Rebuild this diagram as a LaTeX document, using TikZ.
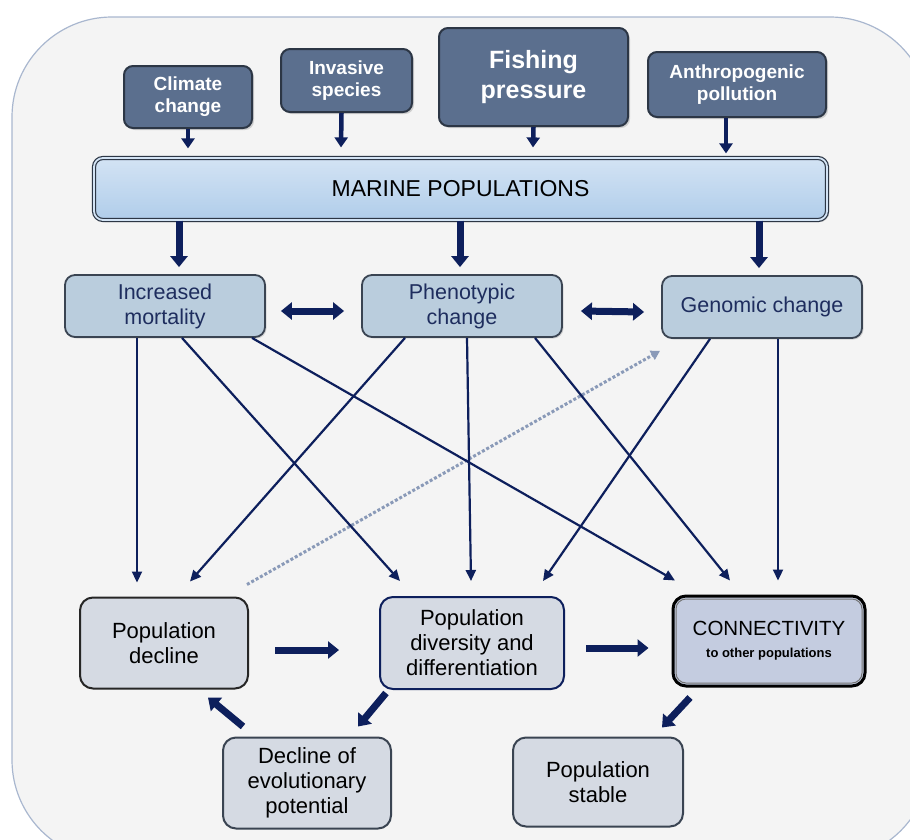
\documentclass[tikz,border=0pt]{standalone}
\usepackage{fontspec}
\setmainfont{Liberation Sans}
\usetikzlibrary{arrows.meta,shadows}
\definecolor{bgfill}{HTML}{F4F4F4}
\definecolor{bgline}{HTML}{A9B7CF}
\definecolor{topfill}{HTML}{5B6F8E}
\definecolor{topline}{HTML}{2C3645}
\definecolor{marA}{HTML}{D3E3F4}
\definecolor{marB}{HTML}{B0CDEA}
\definecolor{midfill}{HTML}{BACDDD}
\definecolor{midline}{HTML}{3A4452}
\definecolor{midtext}{HTML}{1E2D5E}
\definecolor{botfill}{HTML}{D5DAE3}
\definecolor{confill}{HTML}{C4CCE0}
\definecolor{navy}{HTML}{0D1F5C}
\definecolor{dotcol}{HTML}{8A9AB8}
\tikzset{
  topbox/.style={rectangle, rounded corners=9pt, fill=topfill, draw=topline, line width=2pt,
    text=white, align=center, inner sep=0pt,
    drop shadow={shadow xshift=2pt, shadow yshift=-2pt, opacity=0.3}},
  smalltop/.style={topbox, font=\bfseries\fontsize{19}{22}\selectfont},
  midbox/.style={rectangle, rounded corners=10pt, fill=midfill, draw=midline, line width=1.8pt,
    text=midtext, align=center, inner sep=0pt, minimum width=200pt, minimum height=62pt,
    font=\fontsize{21.5}{25}\selectfont,
    drop shadow={shadow xshift=1.5pt, shadow yshift=-1.5pt, opacity=0.25}},
  botbox/.style={rectangle, rounded corners=13pt, fill=botfill, draw=black!85, line width=2pt,
    text=black, align=center, inner sep=0pt, font=\fontsize{22}{25}\selectfont},
  thinarr/.style={draw=navy, line width=2.2pt, -{Triangle[width=10pt,length=11pt]}},
  medarr/.style={draw=navy, line width=4.5pt, -{Triangle[width=13pt,length=10pt]}},
  fatarr/.style={draw=navy, line width=7pt, -{Triangle[width=17pt,length=11pt]}},
  dblarr/.style={draw=navy, line width=7pt, {Triangle[width=17pt,length=11pt]}-{Triangle[width=17pt,length=11pt]}},
  dotarr/.style={draw=dotcol, line width=3pt, dotted, -{Triangle[width=10pt,length=9pt]}},
}
\begin{document}
\begin{tikzpicture}[x=1pt,y=-1pt]
\useasboundingbox (0,0) rectangle (910,839);
\begin{scope}
\clip (0,0) rectangle (910,839);
\draw[fill=bgfill, draw=bgline, line width=1.2pt, rounded corners=100pt] (12,17) rectangle (930,860);
\end{scope}

% top drivers
\node[smalltop, minimum width=128pt, minimum height=62pt] (clim) at (188,97) {Climate\\change};
\node[smalltop, minimum width=131pt, minimum height=63pt] (inv) at (346.5,80.5) {Invasive\\species};
\node[topbox, minimum width=189pt, minimum height=98pt, font=\bfseries\fontsize{25}{30}\selectfont] (fish) at (533.5,77) {Fishing\\pressure};
\node[smalltop, minimum width=178pt, minimum height=65pt] (anth) at (737,84.5) {Anthropogenic\\pollution};

% marine populations
\node[rectangle, rounded corners=9pt, draw=topline, line width=1.2pt, double=marA, double distance=1.8pt,
  top color=marA, bottom color=marB, minimum width=733pt, minimum height=62pt, inner sep=0pt,
  font=\fontsize{23}{26}\selectfont, text=black,
  drop shadow={shadow xshift=2pt, shadow yshift=-2pt, opacity=0.3}] (mar) at (460.5,189) {MARINE POPULATIONS};

% middle
\node[midbox] (inc) at (165,306) {Increased\\mortality};
\node[midbox] (phe) at (462,306) {Phenotypic\\change};
\node[midbox] (gen) at (762,307) {Genomic change};

% bottom
\node[botbox, minimum width=168pt, minimum height=91pt] (dec) at (164,643) {Population\\decline};
\node[botbox, draw=navy, minimum width=184pt, minimum height=92pt] (div) at (472,643) {Population\\diversity and\\differentiation};
\node[botbox, fill=confill, draw=black, line width=3pt, minimum width=192pt, minimum height=90pt] (con) at (769,641)
  {\fontsize{20.5}{24}\selectfont CONNECTIVITY\\[-3pt]{\bfseries\fontsize{13}{16}\selectfont to other populations}};
\draw[draw=black!55, line width=1pt, rounded corners=10pt] ([shift={(4.5,4.5)}]con.north west) rectangle ([shift={(-4.5,-4.5)}]con.south east);
\node[botbox, draw=midline, minimum width=168pt, minimum height=91pt] (evo) at (307,783) {Decline of\\evolutionary\\potential};
\node[botbox, draw=midline, minimum width=170pt, minimum height=89pt] (sta) at (598,782) {Population\\stable};

% drivers -> marine
\draw[medarr] (clim.south) -- ([xshift=-272.5pt,yshift=9pt]mar.north);
\draw[medarr] ([xshift=-5pt]inv.south) -- ([xshift=-119.5pt,yshift=10pt]mar.north);
\draw[medarr] (fish.south) -- ([xshift=72.5pt,yshift=10pt]mar.north);
\draw[medarr] ([xshift=-11pt]anth.south) -- ([xshift=265.5pt,yshift=4pt]mar.north);

% marine -> middle
\draw[fatarr] ([xshift=-281.5pt]mar.south) -- ([xshift=14pt,yshift=7pt]inc.north);
\draw[fatarr] ([xshift=-0.5pt]mar.south) -- ([xshift=-2pt,yshift=7pt]phe.north);
\draw[fatarr] ([xshift=298.5pt]mar.south) -- ([xshift=-3pt,yshift=7pt]gen.north);

% double arrows
\draw[dblarr] ([xshift=15pt,yshift=-5pt]inc.east) -- ([xshift=-17pt,yshift=-5pt]phe.west);
\draw[dblarr] ([xshift=18pt,yshift=-5pt]phe.east) -- ([xshift=-17pt,yshift=-5pt]gen.west);

% dotted
\draw[dotarr] ([xshift=83pt,yshift=12pt]dec.north) -- ([xshift=-102pt,yshift=-12pt]gen.south);

% thin arrows
\draw[thinarr] ([xshift=-28pt]inc.south) -- ([xshift=-27pt,yshift=14pt]dec.north);
\draw[thinarr] ([xshift=17pt]inc.south) -- ([xshift=-72pt,yshift=15pt]div.north);
\draw[thinarr] ([xshift=87pt]inc.south) -- ([xshift=-94pt,yshift=14pt]con.north);
\draw[thinarr] ([xshift=-57pt]phe.south) -- ([xshift=26pt,yshift=15pt]dec.north);
\draw[thinarr] ([xshift=5pt]phe.south) -- ([xshift=-1pt,yshift=15pt]div.north);
\draw[thinarr] ([xshift=73pt]phe.south) -- ([xshift=-39pt,yshift=14pt]con.north);
\draw[thinarr] ([xshift=-52pt]gen.south) -- ([xshift=71pt,yshift=15pt]div.north);
\draw[thinarr] ([xshift=16pt]gen.south) -- ([xshift=9pt,yshift=14pt]con.north);

% bottom thick arrows
\draw[fatarr] ([xshift=26pt,yshift=-7pt]dec.east) -- ([xshift=-40pt,yshift=-7pt]div.west);
\draw[fatarr] ([xshift=21pt,yshift=-5pt]div.east) -- ([xshift=-23pt,yshift=-7pt]con.west);
\draw[fatarr] ([xshift=-86pt,yshift=-3pt]div.south) -- ([xshift=51pt,yshift=10pt]evo.north);
\draw[fatarr] ([xshift=-64pt,yshift=10pt]evo.north) -- ([xshift=44pt,yshift=-8pt]dec.south);
\draw[fatarr] ([xshift=-79pt,yshift=-10pt]con.south) -- ([xshift=64pt,yshift=9pt]sta.north);
\end{tikzpicture}
\end{document}
